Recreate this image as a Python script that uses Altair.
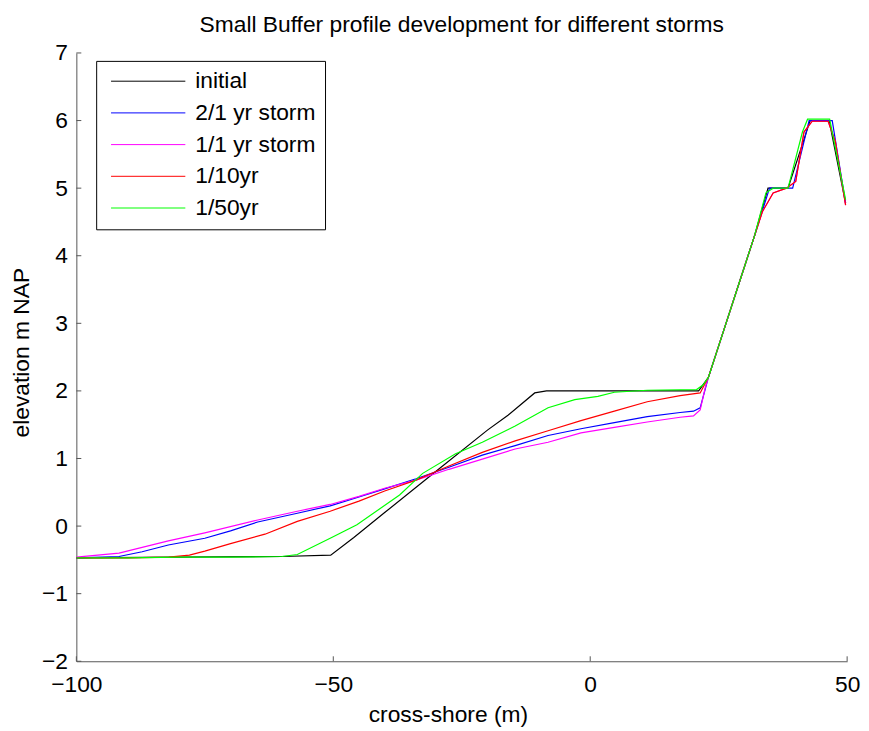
import altair as alt
import pandas as pd

series_names = ["initial", "2/1 yr storm", "1/1 yr storm", "1/10yr", "1/50yr"]
series_colors = ["#000000", "#0000ff", "#ff00ff", "#ff0000", "#00ff00"]

x_initial = [-100, -80, -60, -50.5, -46, -40, -30, -20, -16, -10.8, -8.5, 0, 10, 21.1,
             23, 26, 29, 32, 34.6, 38.5, 42.8, 46.5, 49.7]
y_initial = [-0.47, -0.46, -0.45, -0.43, -0.17, 0.20, 0.81, 1.42, 1.64, 1.97, 2.0, 2.0, 2.0, 2.0,
             2.2, 2.9, 3.6, 4.3, 5.0, 5.0, 6.0, 6.0, 4.78]

x_2per1 = [-100, -95, -91.7, -87.2, -82.1, -75, -70, -64.7, -57, -50.6, -45, -40, -33.9, -27.5,
           -21, -14.6, -8.2, -1.8, 4.7, 11.1, 17.5, 20.1, 21.4, 23, 26, 29, 32, 34.9, 39.4,
           42.6, 47.1, 49.7]
y_2per1 = [-0.47, -0.46, -0.45, -0.38, -0.28, -0.18, -0.07, 0.06, 0.19, 0.30, 0.43, 0.55, 0.70, 0.87,
           1.05, 1.19, 1.34, 1.44, 1.53, 1.62, 1.68, 1.70, 1.75, 2.2, 2.9, 3.6, 4.3, 5.0, 5.0,
           6.0, 6.0, 4.78]

x_1per1 = [-100, -91.7, -82.1, -75, -64.7, -57, -50.6, -45, -40, -33.9, -27.5, -21, -14.6, -8.2,
           -1.8, 4.7, 11.1, 17.5, 20.1, 21.4, 22.4, 23, 26, 29, 32, 33.5, 35.6, 38.2, 40.0, 41.6,
           43.2, 46.3, 47.7, 49.7]
y_1per1 = [-0.46, -0.40, -0.22, -0.10, 0.09, 0.22, 0.32, 0.44, 0.56, 0.68, 0.84, 0.99, 1.14, 1.24,
           1.38, 1.46, 1.54, 1.61, 1.63, 1.72, 2.05, 2.2, 2.9, 3.6, 4.3, 4.65, 4.93, 5.0, 5.1, 5.83,
           5.99, 5.99, 5.69, 4.75]

x_10yr = [-100, -90, -82, -78, -75, -70, -63.3, -57, -50.6, -45, -40, -33.9, -27.5, -21, -14.6,
          -8.2, -1.8, 4.7, 11.1, 17.5, 21.4, 23, 26, 29, 32, 33.5, 35.6, 38.2, 40.0, 41.6, 43.2,
          46.3, 47.7, 49.7]
y_10yr = [-0.47, -0.47, -0.46, -0.43, -0.37, -0.26, -0.12, 0.07, 0.22, 0.37, 0.52, 0.68, 0.89, 1.09,
          1.26, 1.41, 1.56, 1.70, 1.84, 1.93, 1.97, 2.2, 2.9, 3.6, 4.3, 4.65, 4.93, 5.0, 5.1, 5.83,
          5.99, 5.99, 5.69, 4.75]

x_50yr = [-100, -90, -80, -70, -60, -57, -50.6, -45.4, -37.1, -32.6, -26.2, -21, -14.6, -8.2, -3,
          1.5, 4.7, 11.1, 20.7, 22, 23, 26, 29, 32, 34.2, 35.6, 38.5, 41.3, 42.3, 46.6, 49.7]
y_50yr = [-0.47, -0.47, -0.46, -0.46, -0.45, -0.42, -0.18, 0.02, 0.46, 0.78, 1.07, 1.24, 1.48, 1.75,
          1.87, 1.92, 1.98, 2.01, 2.02, 2.09, 2.2, 2.9, 3.6, 4.3, 4.93, 5.0, 5.0, 5.83, 6.02, 6.02,
          4.83]

x_tick_values = [-100, -50, 0, 50]
y_tick_values = [-2, -1, 0, 1, 2, 3, 4, 5, 6, 7]

all_x = [x_initial, x_2per1, x_1per1, x_10yr, x_50yr]
all_y = [y_initial, y_2per1, y_1per1, y_10yr, y_50yr]

rows = []
for name, xs_, ys_ in zip(series_names, all_x, all_y):
    for i, (a, b) in enumerate(zip(xs_, ys_)):
        rows.append({"series": name, "x": a, "y": b, "i": i})
df = pd.DataFrame(rows)

FONT = "Liberation Sans"
W, H = 778, 614
AX = "#555555"

xscale = alt.Scale(domain=[-100, 50], nice=False, zero=False)
yscale = alt.Scale(domain=[-2, 7], nice=False, zero=False)

x_axis = alt.Axis(values=x_tick_values, title="cross-shore (m)", grid=False,
                  tickSize=0, labelPadding=13, labelFlush=False, labelOverlap=False,
                  labelFont=FONT, labelFontSize=23, labelColor="black",
                  domainColor=AX, domainWidth=1,
                  titleFont=FONT, titleFontSize=23, titleFontWeight="normal",
                  titleColor="black", titleX=375, titleY=61,
                  titleBaseline="alphabetic", titleAlign="center")
y_axis = alt.Axis(values=y_tick_values, title="elevation m NAP", grid=False,
                  tickSize=0, labelPadding=9, labelOverlap=False, labelFlush=False,
                  labelFont=FONT, labelFontSize=23, labelColor="black",
                  domainColor=AX, domainWidth=1,
                  titleFont=FONT, titleFontSize=23, titleFontWeight="normal",
                  titleColor="black", titleAngle=270, titleX=-48, titleY=302,
                  titleBaseline="alphabetic", titleAlign="center")

lines = alt.Chart(df).mark_line(strokeWidth=1.2, clip=True).encode(
    x=alt.X("x:Q", scale=xscale, axis=x_axis),
    y=alt.Y("y:Q", scale=yscale, axis=y_axis),
    color=alt.Color("series:N",
                    scale=alt.Scale(domain=series_names, range=series_colors),
                    legend=alt.Legend(title=None, orient="none", legendX=20, legendY=8,
                                      strokeColor="black", fillColor="white", padding=9,
                                      symbolType="M-6,0H6", symbolSize=156.25,
                                      symbolStrokeWidth=1, labelFont=FONT, labelFontSize=23,
                                      labelColor="black", rowPadding=8, symbolOffset=32,
                                      labelOffset=36, labelLimit=300)),
    order=alt.Order("i:Q"),
)

yticks = alt.Chart(pd.DataFrame({"y": y_tick_values})).mark_rule(color=AX, strokeWidth=1).encode(
    y=alt.Y("y:Q", scale=yscale, axis=y_axis),
    x=alt.value(0), x2=alt.value(5),
)
xticks = alt.Chart(pd.DataFrame({"x": x_tick_values})).mark_rule(color=AX, strokeWidth=1).encode(
    x=alt.X("x:Q", scale=xscale, axis=x_axis),
    y=alt.value(H), y2=alt.value(H - 5),
)

chart = alt.layer(lines, yticks, xticks).properties(
    width=W, height=H,
    title=alt.TitleParams(text="Small Buffer profile development for different storms",
                          font=FONT, fontSize=23, fontWeight="normal", color="black",
                          offset=5, anchor="middle"),
    autosize=alt.AutoSizeParams(type="none"),
    padding={"left": 69, "top": 42, "right": 14, "bottom": 66},
).configure_view(strokeWidth=0)

chart.save("out.html", embed_options={"renderer": "svg", "actions": False})
